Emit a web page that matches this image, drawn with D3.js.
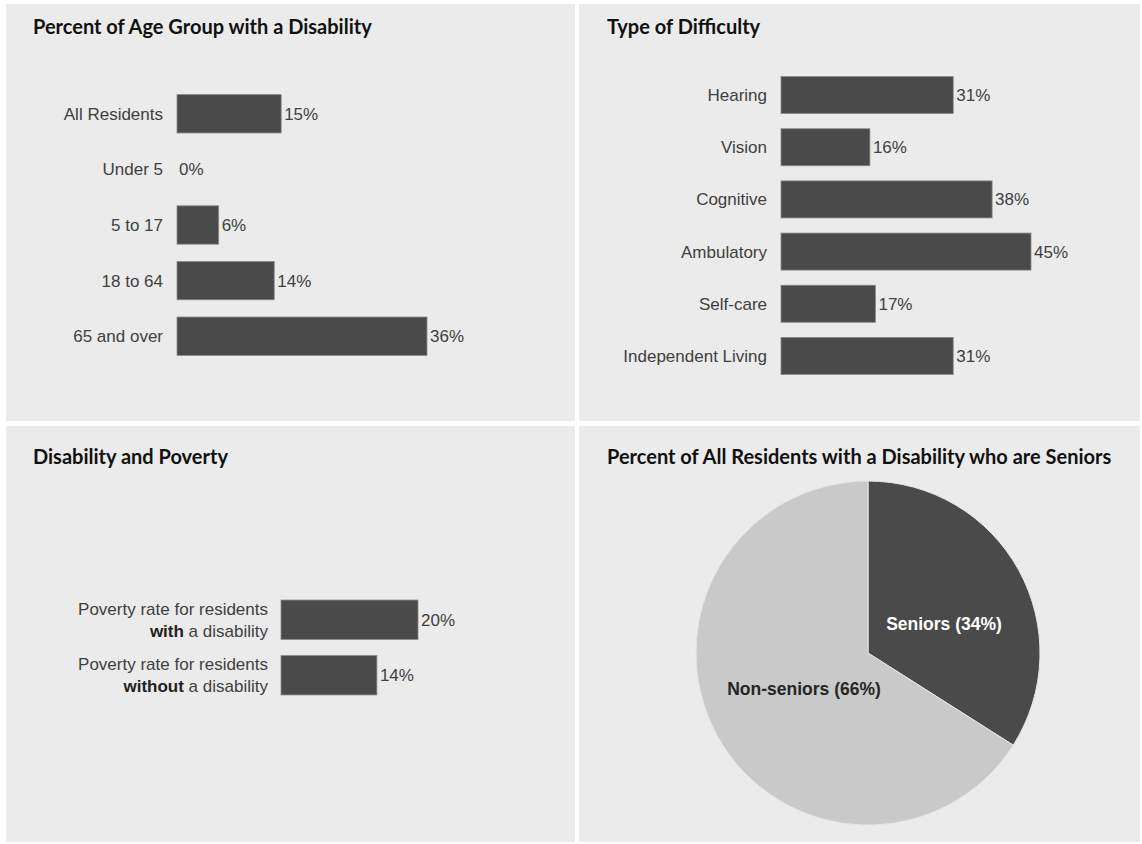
<!DOCTYPE html>
<html>
<head>
<meta charset="utf-8">
<script src="https://cdn.jsdelivr.net/npm/d3@7"></script>
<style>
  body { margin: 0; background: #ffffff; }
  svg { display: block; }
  .title { font-family: Lato, "Open Sans", sans-serif; font-weight: 700; font-size: 20px; fill: #111; }
  .lab { font-family: "Liberation Sans", Arial, sans-serif; font-size: 17px; fill: #404040; }
  .pielab { font-family: "Liberation Sans", Arial, sans-serif; font-size: 17.5px; font-weight: 700; }
</style>
</head>
<body>
<script>

// age groups
var ageGroups = ["All Residents", "Under 5", "5 to 17", "18 to 64", "65 and over"];
var ageValues = [15, 0, 6, 14, 36];

// type of difficulty
var difficultyTypes = ["Hearing", "Vision", "Cognitive", "Ambulatory", "Self-care", "Independent Living"];
var difficultyValues = [31, 16, 38, 45, 17, 31];

// poverty
var povertyGroups = ["with", "without"];
var povertyValues = [20, 14];

// seniors pie
var pieLabels = ["Seniors", "Non-seniors"];
var pieValues = [34, 66];

var W = 1142, H = 844;
var barColor = "#4a4a4a";

var svg = d3.select("body").append("svg")
	.attr("width", W)
	.attr("height", H);

// panel backgrounds
var panels = [
	{x: 6, y: 4, w: 569, h: 417},
	{x: 579, y: 4, w: 561, h: 417},
	{x: 6, y: 426, w: 569, h: 416},
	{x: 579, y: 426, w: 561, h: 416}
];
svg.selectAll("rect.panel")
	.data(panels)
	.enter()
	.append("rect")
	.attr("class", "panel")
	.attr("x", function(d) { return d.x; })
	.attr("y", function(d) { return d.y; })
	.attr("width", function(d) { return d.w; })
	.attr("height", function(d) { return d.h; })
	.style("fill", "#ebebeb");

function title(x, y, txt) {
	svg.append("text")
		.attr("class", "title")
		.attr("x", x)
		.attr("y", y)
		.text(txt);
}

title(33, 34, "Percent of Age Group with a Disability");
title(607, 34, "Type of Difficulty");
title(33, 464, "Disability and Poverty");
title(607, 464, "Percent of All Residents with a Disability who are Seniors");

// generic horizontal bar chart
function barChart(cats, vals, xRange, yRange, maxVal, pad, labelFn) {
	var x = d3.scaleLinear().domain([0, maxVal]).range(xRange);
	var y = d3.scaleBand().domain(cats).range(yRange)
		.paddingInner(pad).paddingOuter(pad / 2);

	var g = svg.append("g");
	var data = cats.map(function(c, i) { return {cat: c, val: vals[i]}; });

	g.selectAll("rect")
		.data(data.filter(function(d) { return d.val > 0; }))
		.enter()
		.append("rect")
		.attr("x", x(0))
		.attr("y", function(d) { return y(d.cat); })
		.attr("width", function(d) { return x(d.val) - x(0); })
		.attr("height", y.bandwidth())
		.style("fill", barColor)
		.style("stroke", "#8a8a8a")
		.style("stroke-width", 0.8);

	// value labels
	g.selectAll("text.val")
		.data(data)
		.enter()
		.append("text")
		.attr("class", "lab val")
		.attr("x", function(d) { return x(d.val) + (d.val > 0 ? 3 : 2); })
		.attr("y", function(d) { return y(d.cat) + y.bandwidth() / 2; })
		.attr("dy", "0.35em")
		.text(function(d) { return d.val + "%"; });

	// category labels
	var lab = g.selectAll("text.cat")
		.data(data)
		.enter()
		.append("text")
		.attr("class", "lab cat")
		.attr("text-anchor", "end")
		.attr("x", x(0) - 14)
		.attr("y", function(d) { return y(d.cat) + y.bandwidth() / 2; });
	labelFn(lab);
}

barChart(ageGroups, ageValues, [177, 427], [86, 364], 36, 0.31, function(sel) {
	sel.attr("dy", "0.35em").text(function(d) { return d.cat; });
});

barChart(difficultyTypes, difficultyValues, [781, 1031], [69, 382], 45, 0.29, function(sel) {
	sel.attr("dy", "0.35em").text(function(d) { return d.cat; });
});

barChart(povertyGroups, povertyValues, [281, 418], [592, 703], 20, 0.29, function(sel) {
	sel.attr("x", 268);
	sel.append("tspan")
		.attr("x", 268)
		.attr("dy", "-0.3em")
		.text("Poverty rate for residents");
	sel.append("tspan")
		.attr("x", 268)
		.attr("dy", "1.3em")
		.style("font-weight", 700)
		.style("fill", "#222")
		.text(function(d) { return d.cat; });
	sel.append("tspan")
		.text(" a disability");
});

// pie
var pie = d3.pie().sort(null).value(function(d) { return d; });
var arcs = pie(pieValues);
var radius = 172;
var arc = d3.arc().innerRadius(0).outerRadius(radius);
var pg = svg.append("g").attr("transform", "translate(868,653)");
var pieColors = ["#4a4a4a", "#c9c9c9"];

pg.selectAll("path")
	.data(arcs)
	.enter()
	.append("path")
	.attr("d", arc)
	.style("fill", function(d, i) { return pieColors[i]; })
	.style("stroke", "#e6e6e6")
	.style("stroke-width", 1);

var labelPos = [[76, -29], [-64, 36]];
pg.selectAll("text")
	.data(arcs)
	.enter()
	.append("text")
	.attr("class", "pielab")
	.attr("text-anchor", "middle")
	.attr("x", function(d, i) { return labelPos[i][0]; })
	.attr("y", function(d, i) { return labelPos[i][1]; })
	.attr("dy", "0.35em")
	.style("fill", function(d, i) { return i === 0 ? "#ffffff" : "#262626"; })
	.text(function(d, i) { return pieLabels[i] + " (" + pieValues[i] + "%)"; });

</script>
</body>
</html>
